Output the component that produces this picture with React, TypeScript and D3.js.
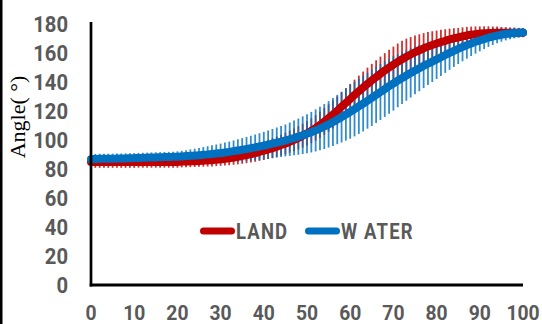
import React from "react";
import * as d3 from "d3";

// percent of the movement (0..100), one point per step
const steps = d3.range(0, 101);

const landAngle = [
  84.8, 84.8, 84.8, 84.8, 84.8, 84.8, 84.8, 84.8, 84.8, 84.8, 84.8,
  84.9, 84.9, 84.9, 84.9, 84.9, 84.9, 84.9, 84.9, 84.9, 84.9,
  85.1, 85.2, 85.3, 85.4, 85.5, 85.7, 85.9, 86.1, 86.4, 86.7,
  87, 87.4, 87.9, 88.4, 89, 89.6, 90.3, 91, 91.8, 92.6,
  93.5, 94.4, 95.4, 96.5, 97.6, 98.8, 100.1, 101.5, 103, 104.6,
  106.4, 108.3, 110.4, 112.7, 115.1, 117.6, 120.2, 122.9, 125.6, 128.3,
  131, 133.6, 136.2, 138.7, 141.1, 143.4, 145.7, 147.9, 150, 152,
  153.9, 155.7, 157.4, 159, 160.5, 161.9, 163.2, 164.4, 165.5, 166.5,
  167.5, 168.4, 169.3, 170.1, 170.8, 171.5, 172.1, 172.6, 173, 173.3,
  173.6, 173.8, 173.9, 174, 174, 174, 174, 174, 174, 174,
];

const landSd = [
  4, 4, 4, 4, 4, 4, 4, 4, 4, 4, 4, 4, 4, 4, 4, 4, 4, 4, 4, 4, 4, 4, 4, 4, 4,
  4, 4.1, 4.2, 4.3, 4.4, 4.5, 4.6, 4.8, 5, 5.2, 5.4, 5.6, 5.8, 6, 6.2, 6.4,
  6.6, 6.8, 7, 7.2, 7.4, 7.6, 7.8, 8, 8.2, 8.4, 8.6, 8.8, 9, 9.2, 9.4,
  9.6, 9.8, 10, 10.2, 10.4, 10.6, 10.8, 11, 11.2, 11.4, 11.6, 11.8, 12, 12.2, 12.4, 12.6, 12.8,
  12.5, 12, 11.5, 11, 10.5, 10, 9.5, 9, 8.5, 8, 7.5, 7, 6.5,
  6.2, 5.9, 5.6, 5.3, 5, 4.8, 4.6, 4.4, 4.2, 4, 3.8, 3.6, 3.4, 3.2, 3,
];

const waterAngle = [
  86.8, 86.9, 87, 87, 87.1, 87.1, 87.2, 87.2, 87.3, 87.4,
  87.5, 87.6, 87.7, 87.8, 87.9, 88, 88.1, 88.2, 88.3, 88.4,
  88.5, 88.7, 88.9, 89.1, 89.3, 89.5, 89.8, 90.1, 90.4, 90.7,
  91, 91.4, 91.8, 92.3, 92.8, 93.3, 93.8, 94.3, 94.9, 95.5,
  96.1, 96.8, 97.5, 98.2, 98.9, 99.7, 100.5, 101.4, 102.3, 103.3,
  104.3, 105.4, 106.6, 107.9, 109.3, 110.8, 112.4, 114.1, 115.8, 117.6,
  119.4, 121.3, 123.2, 125.1, 127.1, 129.1, 131.1, 133.1, 135.1, 137.1,
  139, 140.9, 142.7, 144.5, 146.2, 147.9, 149.5, 151.1, 152.6, 154.1,
  155.6, 157.1, 158.6, 160.1, 161.5, 162.9, 164.2, 165.4, 166.6, 167.7,
  168.7, 169.6, 170.5, 171.3, 172, 172.6, 173.1, 173.5, 173.8, 174,
  174.1,
];

const waterSd = [
  3.5, 3.5, 3.5, 3.5, 3.5, 3.5, 3.5, 3.5, 3.5, 3.5,
  3.5, 3.5, 3.5, 3.5, 3.5, 3.5, 3.5, 3.5, 3.5, 3.5,
  3.7, 3.9, 4.1, 4.4, 4.7, 5, 5.3, 5.6, 5.9, 6.2, 6.5,
  6.8, 7.1, 7.4, 7.7, 8, 8.3, 8.6, 8.9, 9.2, 9.5, 9.8, 10.1, 10.4, 10.7, 11,
  11.5, 12, 12.5, 13, 13.5, 14, 14.5, 15, 15.5, 16, 16.5, 17, 17.5, 18, 18.5,
  18.8, 19, 19.2, 19.3, 19.4, 19.4, 19.3, 19.2, 19, 18.7,
  18.3, 17.9, 17.4, 16.9, 16.4, 15.9, 15.3, 14.7, 14.1, 13.5, 12.9, 12.3, 11.7, 11.1, 10.5,
  9.9, 9.3, 8.7, 8.1, 7.5, 6.9, 6.3, 5.8, 5.3, 4.8, 4.4, 4, 3.7, 3.4, 3.2,
];

const xTicks = [0, 10, 20, 30, 40, 50, 60, 70, 80, 90, 100];
const yTicks = [0, 20, 40, 60, 80, 100, 120, 140, 160, 180];

const series = [
  { name: "LAND", label: "LAND", values: landAngle, sd: landSd, color: "#C00000" },
  { name: "WATER", label: "W ATER", values: waterAngle, sd: waterSd, color: "#0070C0" },
];

const W = 542;
const H = 324;
const tickFont = "Roboto, 'DejaVu Sans', sans-serif";

export default function App() {
  const x = d3.scaleLinear().domain([0, 100]).range([91, 523]);
  const y = d3.scaleLinear().domain([0, 180]).range([285, 24]);

  const line = d3
    .line<number>()
    .x((_, i) => x(steps[i]))
    .y((d) => y(d))
    .curve(d3.curveCatmullRom.alpha(0.5));

  return (
    <svg
      width={W}
      height={H}
      style={{ position: "absolute", left: 0, top: 0, background: "#fff" }}
    >
      <rect x={0} y={0} width={2.5} height={H} fill="#000" />

      {/* error bars */}
      {series.map((s) => (
        <g key={s.name + "-err"} stroke={s.color} strokeWidth={1.8} opacity={0.8}>
          {s.values.map((v, i) => (
            <line
              key={i}
              x1={x(steps[i])}
              x2={x(steps[i])}
              y1={y(v - s.sd[i])}
              y2={y(v + s.sd[i])}
            />
          ))}
        </g>
      ))}

      {series.map((s) => (
        <path
          key={s.name}
          d={line(s.values) || ""}
          fill="none"
          stroke={s.color}
          strokeWidth={8}
          strokeLinecap="round"
        />
      ))}

      {/* axes */}
      <line x1={x(0)} x2={x(0)} y1={y(180) - 2} y2={y(0) + 1.5} stroke="#000" strokeWidth={2.7} />
      <line x1={x(0) - 1.3} x2={x(100)} y1={y(0)} y2={y(0)} stroke="#000" strokeWidth={3} />

      {yTicks.map((t) => (
        <text
          key={t}
          transform={`translate(68,${y(t)}) scale(0.92,1)`}
          textAnchor="end"
          dominantBaseline="central"
          fontFamily={tickFont}
          fontWeight="bold"
          fontSize={22}
          fill="#595959"
        >
          {t}
        </text>
      ))}
      {xTicks.map((t) => (
        <text
          key={t}
          transform={`translate(${x(t)},320) scale(0.92,1)`}
          textAnchor="middle"
          fontFamily={tickFont}
          fontWeight="bold"
          fontSize={21}
          fill="#595959"
        >
          {t}
        </text>
      ))}

      <text
        transform="translate(25,117) rotate(-90)"
        textAnchor="middle"
        fontFamily="'Liberation Serif', 'DejaVu Serif', serif"
        fontSize={22}
        fill="#000"
      >
        Angle( °)
      </text>

      {/* legend */}
      {series.map((s, i) => {
        const lx = i === 0 ? 200 : 305;
        return (
          <g key={s.name + "-legend"}>
            <line
              x1={lx + 3.5}
              x2={lx + 31.5}
              y1={231}
              y2={231}
              stroke={s.color}
              strokeWidth={7}
              strokeLinecap="round"
            />
            <text
              transform={`translate(${lx + 36},231) scale(0.84,1)`}
              dominantBaseline="central"
              fontFamily={tickFont}
              fontWeight="bold"
              fontSize={22}
              letterSpacing={1.4}
              fill="#595959"
            >
              {s.label}
            </text>
          </g>
        );
      })}
    </svg>
  );
}
